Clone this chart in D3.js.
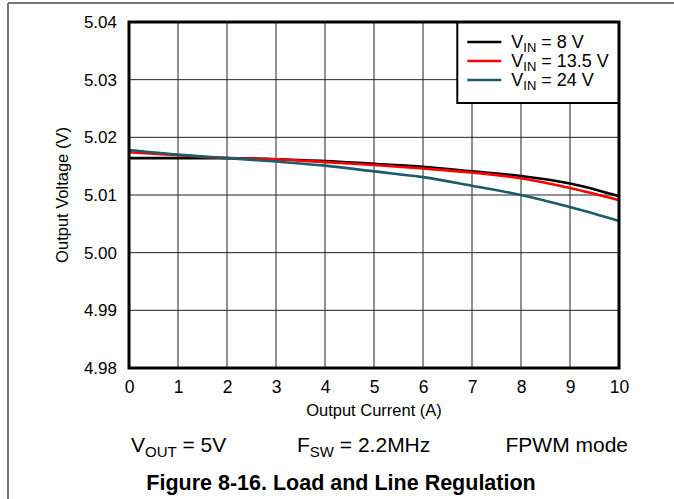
<!DOCTYPE html>
<html>
<head>
<meta charset="utf-8">
<script src="https://cdn.jsdelivr.net/npm/d3@7"></script>
<style>
  body { margin: 0; background: #fff; }
  svg { display: block; font-family: "Liberation Sans", Arial, sans-serif; }
</style>
</head>
<body>
<div id="chart"></div>
<script>
(function (d3) {
    'use strict';

    // Output current (A)
    var current = [0, 1, 2, 3, 4, 5, 6, 7, 8, 9, 10];

    // Output voltage (V) per input voltage
    var vin8 = [5.0164, 5.0164, 5.0164, 5.0162, 5.0159, 5.0154, 5.0149, 5.0141, 5.0133, 5.0120, 5.0098];
    var vin135 = [5.0174, 5.0169, 5.0164, 5.0162, 5.0157, 5.0152, 5.0146, 5.0139, 5.0129, 5.0112, 5.0091];
    var vin24 = [5.0178, 5.0170, 5.0164, 5.0158, 5.0151, 5.0141, 5.0131, 5.0116, 5.0100, 5.0079, 5.0055];

    var seriesNames = ['8 V', '13.5 V', '24 V'];
    var seriesColors = ['#000000', '#ff0000', '#1b5c6b'];

    var xTicks = [0, 1, 2, 3, 4, 5, 6, 7, 8, 9, 10];
    var yTicks = [4.98, 4.99, 5.00, 5.01, 5.02, 5.03, 5.04];

    var W = 674, H = 499;
    var margin = {top: 22, left: 129};
    var width = 490;
    var height = 346;

    var svg = d3.select('#chart').append('svg')
        .attr('width', W)
        .attr('height', H);

    // page frame lines
    svg.append('line')
        .attr('x1', 8).attr('x2', W).attr('y1', 3).attr('y2', 3)
        .attr('stroke', '#777').attr('stroke-width', 2);
    svg.append('line')
        .attr('x1', 8).attr('x2', 8).attr('y1', 3).attr('y2', H)
        .attr('stroke', '#777').attr('stroke-width', 2);

    var x = d3.scaleLinear().domain([0, 10]).range([0, width]);
    var y = d3.scaleLinear().domain([4.98, 5.04]).range([height, 0]);

    var g = svg.append('g')
        .attr('transform', 'translate(' + margin.left + ',' + margin.top + ')');

    // grid
    g.append('g').selectAll('line')
        .data(xTicks.slice(1, -1))
        .enter().append('line')
        .attr('x1', function (d) { return x(d); })
        .attr('x2', function (d) { return x(d); })
        .attr('y1', 0).attr('y2', height)
        .attr('stroke', '#222').attr('stroke-width', 1);

    g.append('g').selectAll('line')
        .data(yTicks.slice(1, -1))
        .enter().append('line')
        .attr('y1', function (d) { return y(d); })
        .attr('y2', function (d) { return y(d); })
        .attr('x1', 0).attr('x2', width)
        .attr('stroke', '#222').attr('stroke-width', 1);

    // axes (labels only)
    var xAxis = g.append('g')
        .attr('transform', 'translate(0,' + height + ')')
        .call(d3.axisBottom(x).tickValues(xTicks).tickSize(0).tickPadding(13).tickFormat(d3.format('d')));
    xAxis.select('.domain').remove();
    xAxis.selectAll('text')
        .attr('font-size', 17.5).attr('fill', '#000')
        .style('font-family', '"Liberation Sans", Arial, sans-serif');

    var yAxis = g.append('g')
        .call(d3.axisLeft(y).tickValues(yTicks).tickSize(0).tickPadding(12).tickFormat(d3.format('.2f')));
    yAxis.select('.domain').remove();
    yAxis.selectAll('text')
        .attr('font-size', 17).attr('fill', '#000')
        .style('font-family', '"Liberation Sans", Arial, sans-serif');

    // lines
    var line = d3.line()
        .x(function (d) { return x(d[0]); })
        .y(function (d) { return y(d[1]); })
        .curve(d3.curveMonotoneX);

    [vin8, vin135, vin24].forEach(function (vals, i) {
        g.append('path')
            .datum(current.map(function (c, j) { return [c, vals[j]]; }))
            .attr('fill', 'none')
            .attr('stroke', seriesColors[i])
            .attr('stroke-width', 2.6)
            .attr('d', line);
    });

    // legend
    var lg = g.append('g').attr('transform', 'translate(' + (x(6.7)) + ',0)');
    lg.append('rect')
        .attr('width', x(10) - x(6.7)).attr('height', 81)
        .attr('fill', '#fff').attr('stroke', '#000').attr('stroke-width', 2);
    seriesNames.forEach(function (name, i) {
        var yy = 20 + i * 19;
        lg.append('line')
            .attr('x1', 10).attr('x2', 44).attr('y1', yy).attr('y2', yy)
            .attr('stroke', seriesColors[i]).attr('stroke-width', 2.6);
        var t = lg.append('text')
            .attr('x', 54).attr('y', yy + 6)
            .attr('font-size', 18);
        t.append('tspan').text('V');
        t.append('tspan').attr('font-size', 13).attr('dy', 4).text('IN');
        t.append('tspan').attr('dy', -4).text(' = ' + name);
    });

    // frame
    g.append('rect')
        .attr('width', width).attr('height', height)
        .attr('fill', 'none').attr('stroke', '#000').attr('stroke-width', 3);

    // axis titles
    svg.append('text')
        .attr('x', margin.left + width / 2).attr('y', 416)
        .attr('text-anchor', 'middle').attr('font-size', 16.5)
        .text('Output Current (A)');
    svg.append('text')
        .attr('transform', 'translate(68,' + (margin.top + height / 2) + ') rotate(-90)')
        .attr('text-anchor', 'middle').attr('font-size', 16.5)
        .text('Output Voltage (V)');

    // conditions
    var c1 = svg.append('text').attr('x', 131).attr('y', 452).attr('font-size', 21);
    c1.append('tspan').text('V');
    c1.append('tspan').attr('font-size', 15).attr('dy', 5).text('OUT');
    c1.append('tspan').attr('dy', -5).text(' = 5V');

    var c2 = svg.append('text').attr('x', 297).attr('y', 452).attr('font-size', 21);
    c2.append('tspan').text('F');
    c2.append('tspan').attr('font-size', 15).attr('dy', 5).text('SW');
    c2.append('tspan').attr('dy', -5).text(' = 2.2MHz');

    svg.append('text').attr('x', 628).attr('y', 452).attr('font-size', 21)
        .attr('text-anchor', 'end')
        .text('FPWM mode');

    svg.append('text')
        .attr('x', 341).attr('y', 490)
        .attr('text-anchor', 'middle').attr('font-size', 21.5).attr('font-weight', 'bold')
        .text('Figure 8-16. Load and Line Regulation');

})(d3);
</script>
</body>
</html>
